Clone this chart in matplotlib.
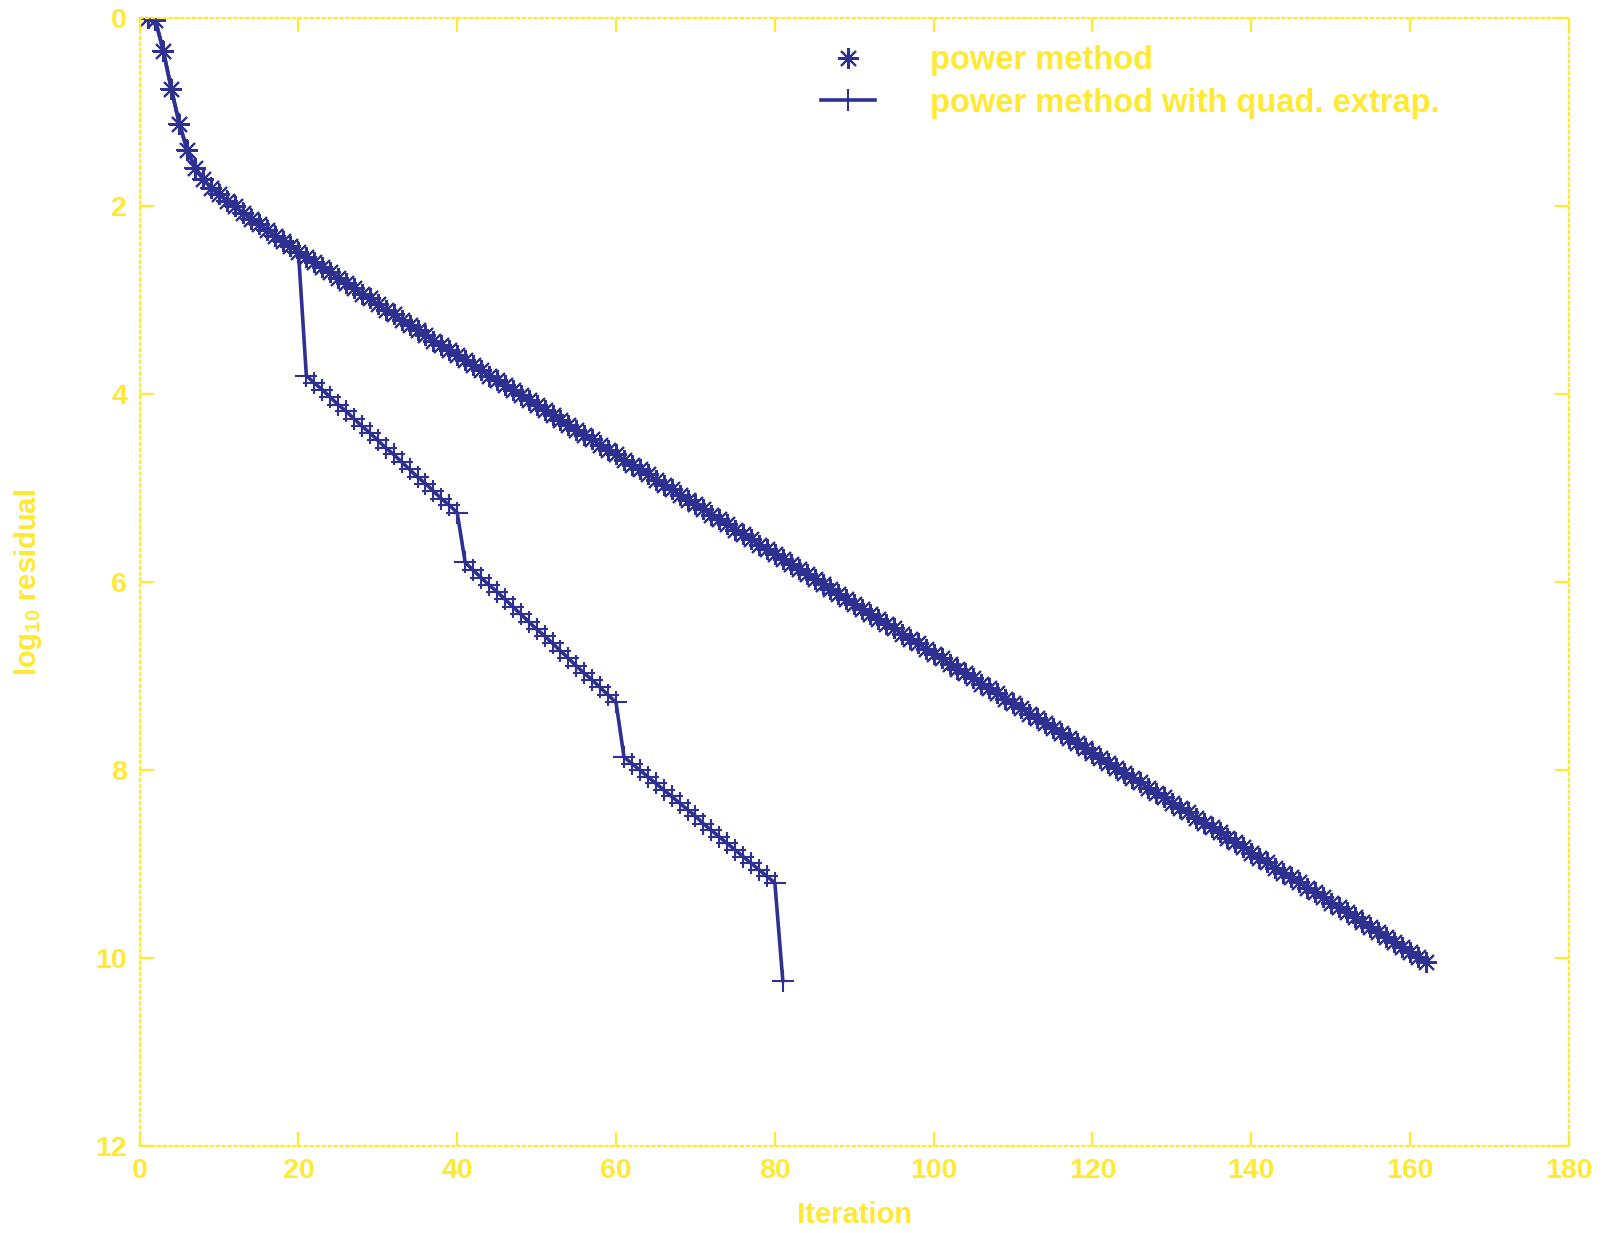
import matplotlib
matplotlib.use("Agg")
import matplotlib.pyplot as plt

# log10 residual per iteration, plain power method
power_iter = list(range(1, 163))
power_res = [
    0.00, 0.02, 0.35, 0.75, 1.12, 1.40, 1.59, 1.71, 1.80, 1.87,
    1.94, 2.00, 2.07, 2.13, 2.19, 2.25, 2.31, 2.37, 2.42, 2.48,
    2.54, 2.59, 2.65, 2.70, 2.76, 2.82, 2.87, 2.93, 2.98, 3.04,
    3.10, 3.15, 3.21, 3.26, 3.32, 3.37, 3.43, 3.48, 3.53, 3.58,
    3.64, 3.69, 3.74, 3.80, 3.85, 3.90, 3.95, 4.01, 4.06, 4.11,
    4.17, 4.22, 4.27, 4.33, 4.38, 4.43, 4.48, 4.54, 4.59, 4.64,
    4.70, 4.75, 4.80, 4.85, 4.91, 4.96, 5.01, 5.07, 5.12, 5.17,
    5.22, 5.28, 5.33, 5.38, 5.44, 5.49, 5.54, 5.60, 5.65, 5.70,
    5.75, 5.81, 5.86, 5.91, 5.97, 6.02, 6.07, 6.13, 6.18, 6.23,
    6.28, 6.34, 6.39, 6.44, 6.49, 6.55, 6.60, 6.65, 6.71, 6.76,
    6.81, 6.87, 6.92, 6.97, 7.02, 7.08, 7.13, 7.18, 7.24, 7.29,
    7.34, 7.40, 7.45, 7.50, 7.55, 7.61, 7.66, 7.71, 7.76, 7.82,
    7.87, 7.92, 7.98, 8.03, 8.08, 8.13, 8.19, 8.24, 8.29, 8.35,
    8.40, 8.45, 8.51, 8.56, 8.61, 8.66, 8.72, 8.77, 8.82, 8.88,
    8.93, 8.98, 9.04, 9.09, 9.14, 9.19, 9.25, 9.30, 9.35, 9.41,
    9.46, 9.51, 9.56, 9.62, 9.67, 9.72, 9.78, 9.83, 9.88, 9.94,
    9.99, 10.04,
]

# power method with quadratic extrapolation every 20 steps
quad_iter = list(range(1, 82))
quad_res = [
    0.00, 0.02, 0.35, 0.75, 1.12, 1.40, 1.59, 1.71, 1.80, 1.87,
    1.94, 2.00, 2.07, 2.13, 2.19, 2.25, 2.31, 2.37, 2.42, 2.48,
    3.80, 3.88, 3.95, 4.03, 4.11, 4.18, 4.26, 4.34, 4.41, 4.49,
    4.57, 4.64, 4.72, 4.80, 4.88, 4.95, 5.03, 5.11, 5.18, 5.26,
    5.79, 5.87, 5.95, 6.03, 6.10, 6.18, 6.26, 6.34, 6.42, 6.50,
    6.57, 6.65, 6.73, 6.81, 6.89, 6.97, 7.04, 7.12, 7.20, 7.28,
    7.86, 7.93, 8.00, 8.07, 8.14, 8.21, 8.28, 8.35, 8.42, 8.49,
    8.57, 8.64, 8.71, 8.78, 8.85, 8.92, 8.99, 9.06, 9.13, 9.20,
    10.24,
]

x_ticks = [0, 20, 40, 60, 80, 100, 120, 140, 160, 180]
y_ticks = [0, 2, 4, 6, 8, 10, 12]

blue = "#2e3192"
yellow = "#ffe933"

plt.rcParams["font.family"] = ["Liberation Sans", "DejaVu Sans"]
plt.rcParams["font.weight"] = "bold"
plt.rcParams["axes.labelweight"] = "bold"
plt.rcParams["mathtext.fontset"] = "custom"
plt.rcParams["mathtext.rm"] = "Liberation Sans:bold"
plt.rcParams["mathtext.default"] = "rm"

fig = plt.figure(figsize=(16.1, 12.33), dpi=100)
ax = fig.add_axes([0.0867, 0.0706, 0.8878, 0.9144])

star = (8, 2, 0)
ax.plot(power_iter, power_res, color=blue, lw=2.6)
ax.plot(power_iter, power_res, ls="none", marker=star, ms=15, mew=1.5,
        color=blue, label="power method")
ax.plot(quad_iter, quad_res, color=blue, lw=2.6, marker="+", ms=16, mew=1.5,
        label="power method with quad. extrap.")

ax.set_xlim(0, 180)
ax.set_ylim(12, 0)
ax.set_xticks(x_ticks)
ax.set_yticks(y_ticks)

for s in ax.spines.values():
    s.set_color(yellow)
    s.set_linestyle(":")
    s.set_linewidth(1.6)

ax.tick_params(direction="in", length=10, width=1.6, color=yellow,
               labelcolor=yellow, labelsize=20.5, pad=9,
               top=True, right=True)

ax.set_xlabel("Iteration", color=yellow, fontsize=21)
ax.set_ylabel("log$_{10}$ residual", color=yellow, fontsize=21)
ax.xaxis.set_label_coords(0.5, -0.049)
ax.yaxis.set_label_coords(-0.067, 0.5)

leg = ax.legend(loc="upper left", bbox_to_anchor=(0.4767, 0.9765), frameon=False,
                fontsize=23.5, handlelength=1.65, handletextpad=1.7,
                borderaxespad=0, borderpad=0, labelspacing=0.36,
                labelcolor=yellow)

fig.savefig("out.png", dpi=100, facecolor="white")
